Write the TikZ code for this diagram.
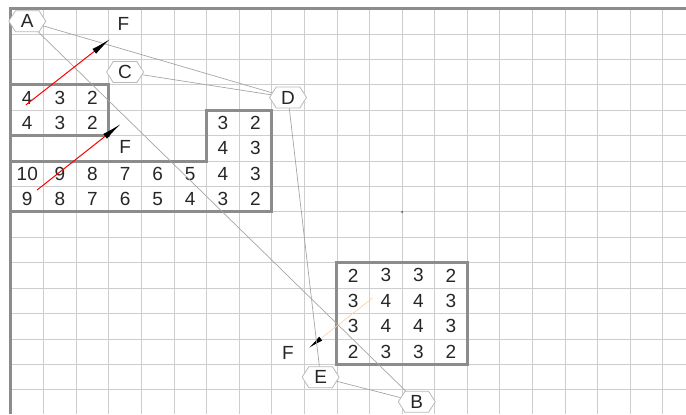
\documentclass[tikz,border=0pt]{standalone}
\usepackage{fontspec}
\setmainfont{Liberation Sans}
\usetikzlibrary{shapes.symbols,arrows.meta}
\definecolor{gridgray}{RGB}{205,205,205}
\definecolor{boxgray}{RGB}{140,140,140}
\definecolor{linkgray}{RGB}{165,165,165}
\definecolor{hexgray}{RGB}{185,185,185}

\begin{document}
\begin{tikzpicture}[x=32.6pt,y=-25.43pt,font=\fontsize{19}{21}\selectfont,
 hex/.style={shape=signal,signal to=east and west,signal pointer angle=115,draw=hexgray,line width=0.8pt,fill=white,minimum height=21pt,minimum width=37pt,inner sep=0pt,text=black!85},
 num/.style={inner sep=0pt,text=black!85},
 blk/.style={draw=boxgray,line width=3pt},
 link/.style={draw=linkgray,line width=0.7pt},
 mv/.style={red,line width=1pt,-{Latex[length=20pt,width=6pt,black]}}]
 \useasboundingbox (-0.337,-0.334) rectangle (20.71,15.95);
 % grid
 \foreach \i in {1,...,20} \draw[gridgray,line width=0.8pt] (\i,0) -- (\i,15.95);
 \foreach \j in {1,...,15} \draw[gridgray,line width=0.8pt] (0,\j) -- (20.71,\j);
 \draw[boxgray,line width=3pt] (0,15.95) -- (0,0) -- (20.71,0);
 % blocks
 \draw[blk] (0,3) rectangle (3,5);
 \draw[blk] (0,6) -- (6,6) -- (6,4) -- (8,4) -- (8,8) -- (0,8) -- cycle;
 \draw[blk] (10,10) rectangle (14,14);
 \foreach \r/\c/\row in {3/0/{4,3,2},4/0/{4,3,2},4/6/{3,2},5/6/{4,3},
   6/0/{10,9,8,7,6,5,4,3},7/0/{9,8,7,6,5,4,3,2},
   10/10/{2,3,3,2},11/10/{3,4,4,3},12/10/{3,4,4,3},13/10/{2,3,3,2}}
   \foreach \v [count=\k from 0] in \row
     \node[num] (d\r-\c-\k) at (\c+\k+0.5,\r+0.5) {\v};
 % moves
 \coordinate (s3) at (11.10,11.38);
 \coordinate (t3) at (9.14,13.35);
 \draw[orange!35,line width=0.7pt,-{Latex[length=15pt,width=5pt,black]}] (s3) -- (t3);
 % points
 \node[hex] (A) at (0.5,0.5) {A};
 \node[hex] (C) at (3.5,2.5) {C};
 \node[hex] (D) at (8.5,3.5) {D};
 \node[hex] (E) at (9.5,14.5) {E};
 \node[hex] (B) at (12.45,15.47) {B};
 \draw[link] (A) -- (D);
 \draw[link] (A) -- (B);
 \draw[link] (C) -- (D);
 \draw[link] (D) -- (E);
 \draw[link] (E) -- (B);
 \node[num] (f1) at (3.45,0.62) {F};
 \node[num] (f2) at (3.5,5.45) {F};
 \node[num] (f3) at (8.5,13.55) {F};
 \coordinate (s1) at (0.46,3.79);
 \coordinate (t1) at (3.04,1.20);
 \coordinate (s2) at (0.80,7.14);
 \coordinate (t2) at (3.37,4.54);
 \draw[mv] (s1) -- (t1);
 \draw[mv] (s2) -- (t2);
 \coordinate (dot) at (12,8);
 \fill[black!70] (dot) circle (1pt);
\end{tikzpicture}
\end{document}
